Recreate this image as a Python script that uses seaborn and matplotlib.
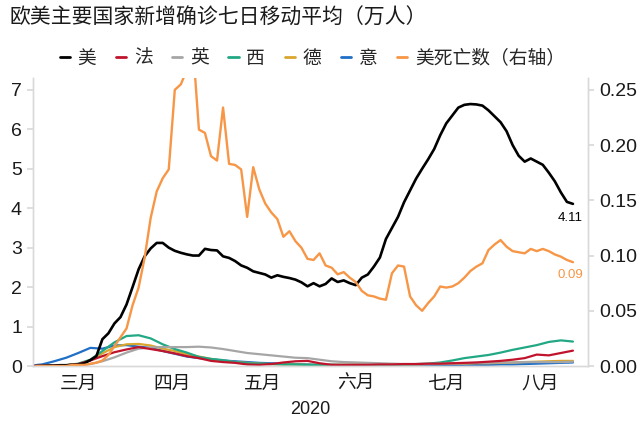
import pandas as pd
import matplotlib
matplotlib.use("Agg")
import matplotlib.pyplot as plt
import matplotlib.dates as mdates
from matplotlib.ticker import NullFormatter, FuncFormatter, FormatStrFormatter
from matplotlib.lines import Line2D
import seaborn as sns

# ---- data (万人) ----
# United States: every other day, 2020-03-02 .. 2020-08-27
us_dates = pd.date_range("2020-03-02", "2020-08-27", freq="2D")
us_cases = [
    0.00, 0.00, 0.01, 0.01, 0.02, 0.02, 0.03, 0.04, 0.07, 0.15,
    0.25, 0.68, 0.83, 1.08, 1.24, 1.56, 2.00, 2.45, 2.78, 2.98,
    3.12, 3.12, 3.00, 2.92, 2.87, 2.83, 2.80, 2.80, 2.97, 2.94,
    2.93, 2.78, 2.74, 2.66, 2.55, 2.49, 2.40, 2.36, 2.32, 2.24,
    2.30, 2.26, 2.23, 2.19, 2.12, 2.02, 2.10, 2.02, 2.08, 2.22,
    2.13, 2.17, 2.10, 2.05, 2.24, 2.32, 2.52, 2.75, 3.22, 3.50,
    3.78, 4.15, 4.45, 4.75, 5.00, 5.24, 5.50, 5.85, 6.15, 6.35,
    6.55, 6.62, 6.64, 6.63, 6.60, 6.48, 6.33, 6.18, 5.95, 5.60,
    5.33, 5.18, 5.26, 5.18, 5.10, 4.90, 4.68, 4.40, 4.16, 4.11,
]
us_deaths = [
    0.000, 0.000, 0.000, 0.000, 0.000, 0.000, 0.001, 0.001, 0.001, 0.002,
    0.003, 0.005, 0.010, 0.018, 0.026, 0.034, 0.055, 0.071, 0.098, 0.134,
    0.158, 0.170, 0.178, 0.250, 0.255, 0.268, 0.290, 0.214, 0.211, 0.190,
    0.186, 0.234, 0.183, 0.182, 0.178, 0.135, 0.180, 0.160, 0.147, 0.139,
    0.133, 0.117, 0.122, 0.113, 0.107, 0.097, 0.096, 0.102, 0.091, 0.089,
    0.083, 0.085, 0.080, 0.076, 0.068, 0.064, 0.063, 0.061, 0.060, 0.084,
    0.091, 0.090, 0.063, 0.055, 0.050, 0.057, 0.063, 0.072, 0.071, 0.072,
    0.075, 0.080, 0.086, 0.090, 0.093, 0.105, 0.110, 0.114, 0.108, 0.104,
    0.103, 0.102, 0.106, 0.104, 0.106, 0.104, 0.101, 0.099, 0.096, 0.094,
]

# European countries: every fourth day, 2020-02-29 .. 2020-08-27
eu_dates = pd.date_range("2020-02-29", "2020-08-27", freq="4D")
fr_cases = [
    0.00, 0.01, 0.01, 0.02, 0.05, 0.14, 0.25, 0.35, 0.42, 0.48,
    0.43, 0.38, 0.32, 0.25, 0.20, 0.13, 0.10, 0.08, 0.04, 0.03,
    0.05, 0.09, 0.12, 0.13, 0.07, 0.03, 0.03, 0.03, 0.03, 0.04,
    0.04, 0.05, 0.05, 0.06, 0.06, 0.07, 0.08, 0.09, 0.11, 0.13,
    0.16, 0.20, 0.29, 0.27, 0.33, 0.39,
]
uk_cases = [
    0.00, 0.00, 0.00, 0.01, 0.02, 0.05, 0.12, 0.22, 0.34, 0.44,
    0.47, 0.48, 0.48, 0.48, 0.49, 0.47, 0.43, 0.38, 0.33, 0.30,
    0.27, 0.24, 0.21, 0.20, 0.16, 0.12, 0.10, 0.09, 0.08, 0.07,
    0.06, 0.05, 0.05, 0.05, 0.06, 0.06, 0.07, 0.08, 0.08, 0.09,
    0.09, 0.10, 0.10, 0.10, 0.10, 0.11,
]
es_cases = [
    0.00, 0.00, 0.01, 0.02, 0.06, 0.16, 0.38, 0.60, 0.76, 0.78,
    0.70, 0.55, 0.43, 0.34, 0.23, 0.18, 0.15, 0.10, 0.07, 0.06,
    0.05, 0.04, 0.04, 0.03, 0.03, 0.03, 0.03, 0.03, 0.03, 0.03,
    0.04, 0.04, 0.05, 0.06, 0.09, 0.14, 0.20, 0.24, 0.28, 0.34,
    0.41, 0.47, 0.53, 0.61, 0.65, 0.62,
]
de_cases = [
    0.00, 0.00, 0.01, 0.02, 0.05, 0.15, 0.32, 0.48, 0.55, 0.56,
    0.52, 0.44, 0.38, 0.30, 0.24, 0.18, 0.13, 0.10, 0.08, 0.06,
    0.05, 0.04, 0.04, 0.03, 0.03, 0.03, 0.03, 0.04, 0.04, 0.04,
    0.04, 0.04, 0.04, 0.05, 0.05, 0.06, 0.06, 0.07, 0.07, 0.08,
    0.09, 0.10, 0.11, 0.12, 0.13, 0.13,
]
it_cases = [
    0.01, 0.04, 0.12, 0.21, 0.33, 0.46, 0.44, 0.52, 0.53, 0.49,
    0.46, 0.38, 0.31, 0.24, 0.20, 0.17, 0.14, 0.12, 0.10, 0.08,
    0.07, 0.06, 0.05, 0.04, 0.03, 0.03, 0.02, 0.02, 0.02, 0.02,
    0.02, 0.02, 0.02, 0.02, 0.02, 0.02, 0.03, 0.03, 0.03, 0.04,
    0.04, 0.05, 0.06, 0.07, 0.08, 0.09,
]

legend_order = ["美", "法", "英", "西", "德", "意"]
death_label = "美死亡数（右轴）"
month_labels = ["三月", "四月", "五月", "六月", "七月", "八月"]
title = "欧美主要国家新增确诊七日移动平均（万人）"

colors = {
    "美": "#000000",
    "法": "#C0142C",
    "英": "#A6A6A6",
    "西": "#22A884",
    "德": "#D9A62E",
    "意": "#1F6FC6",
}
death_color = "#F79646"

# ---- long-form table for the left axis ----
cases = pd.concat([
    pd.DataFrame({"date": eu_dates, "value": it_cases, "series": "意"}),
    pd.DataFrame({"date": eu_dates, "value": de_cases, "series": "德"}),
    pd.DataFrame({"date": eu_dates, "value": es_cases, "series": "西"}),
    pd.DataFrame({"date": eu_dates, "value": uk_cases, "series": "英"}),
    pd.DataFrame({"date": eu_dates, "value": fr_cases, "series": "法"}),
    pd.DataFrame({"date": us_dates, "value": us_cases, "series": "美"}),
], ignore_index=True)
deaths = pd.DataFrame({"date": us_dates, "value": us_deaths})

sns.set_theme(style="white")
cjk = ["Noto Sans CJK SC", "DejaVu Sans"]
num_font = "Liberation Sans"
plt.rcParams["font.family"] = cjk

fig = plt.figure(figsize=(6.4, 4.21), dpi=100)
ax = fig.add_axes([0.0516, 0.1306, 0.8672, 0.6841])
ax2 = ax.twinx()

sns.lineplot(data=cases, x="date", y="value", hue="series",
             hue_order=["意", "德", "西", "英", "法", "美"], palette=colors,
             estimator=None, linewidth=1.6, legend=False, ax=ax)
for line in ax.get_lines():
    if line.get_color() in ("#000000", "k"):
        line.set_linewidth(1.9)

sns.lineplot(data=deaths, x="date", y="value", color=death_color,
             estimator=None, linewidth=1.7, legend=False, ax=ax2)

# ---- axes ----
ax.set_xlim(pd.Timestamp("2020-03-01"), pd.Timestamp("2020-09-01"))
ax.set_ylim(0, 7.3)
ax2.set_ylim(0, 7.3 / 28)
ax.set_yticks(range(0, 8))
ax2.set_yticks([0, 0.05, 0.10, 0.15, 0.20, 0.25])
ax2.yaxis.set_major_formatter(FormatStrFormatter("%.2f"))

ax.xaxis.set_major_locator(mdates.MonthLocator())
ax.xaxis.set_major_formatter(NullFormatter())
ax.xaxis.set_minor_locator(mdates.MonthLocator(bymonthday=16))
ax.xaxis.set_minor_formatter(FuncFormatter(
    lambda v, pos: month_labels[mdates.num2date(v).month - 3]
    if 3 <= mdates.num2date(v).month <= 8 else ""))

ax.set_xlabel("2020", fontsize=13, family=num_font, labelpad=5, color="#1a1a1a")
ax.set_ylabel("")
ax2.set_ylabel("")

spine_color = "#D9D9D9"
for a in (ax, ax2):
    for side in ("left", "right", "bottom"):
        a.spines[side].set_color(spine_color)
        a.spines[side].set_linewidth(1.0)
    a.spines["top"].set_visible(False)
    a.grid(False)

ax.tick_params(axis="x", which="major", length=4, color=spine_color, direction="out")
ax.tick_params(axis="x", which="minor", length=0, pad=5, labelsize=13.5,
               labelcolor="#1a1a1a")
ax.tick_params(axis="y", length=4, color=spine_color, direction="out",
               labelsize=14, pad=4, labelcolor="#1a1a1a")
ax2.tick_params(axis="y", length=4, color=spine_color, direction="out",
                labelsize=14, pad=4, labelcolor="#1a1a1a")
for lab in ax.get_yticklabels() + ax2.get_yticklabels():
    lab.set_family(num_font)

# ---- end-of-series labels ----
ax.annotate(f"{us_cases[-1]:.2f}", xy=(us_dates[-1], us_cases[-1]),
            xytext=(-3, -8), textcoords="offset pixels", ha="center", va="top",
            fontsize=9.5, family=num_font, color="#000000")
ax2.annotate(f"{us_deaths[-1]:.2f}", xy=(us_dates[-1], us_deaths[-1]),
             xytext=(-3, -7), textcoords="offset pixels", ha="center", va="top",
             fontsize=9.5, family=num_font, color=death_color)

# ---- title and legend ----
fig.text(0.015, 0.957, title, fontsize=15, va="center", ha="left",
         color="#1a1a1a")

handles = [Line2D([], [], color=colors[k], linewidth=2.0) for k in legend_order]
handles.append(Line2D([], [], color=death_color, linewidth=2.0))
labels = legend_order + [death_label]
fig.legend(handles, labels, loc="center", bbox_to_anchor=(0.488, 0.862),
           ncol=7, frameon=False, handlelength=0.55, handletextpad=0.4,
           columnspacing=1.05, fontsize=13.5)

fig.savefig("out.png", dpi=100)
